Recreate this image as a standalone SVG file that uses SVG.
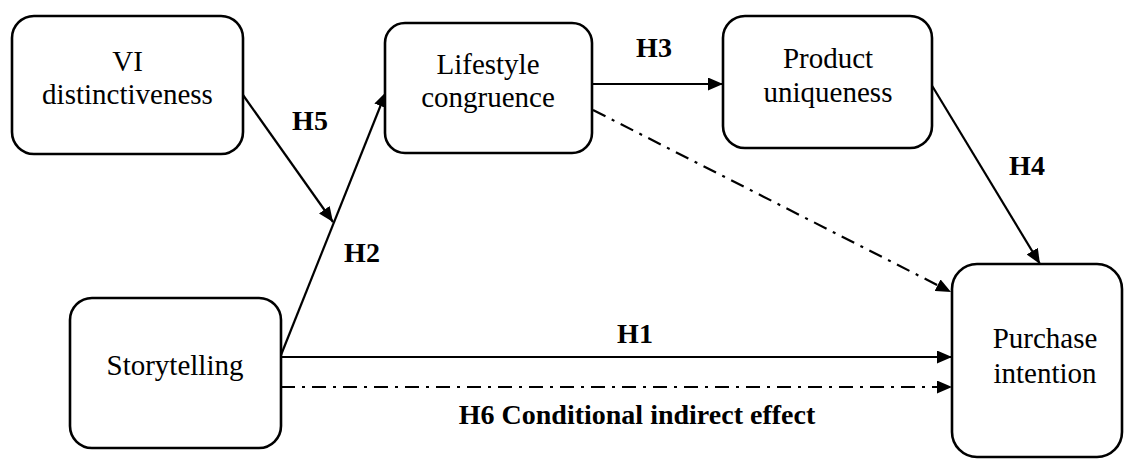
<svg xmlns="http://www.w3.org/2000/svg" width="1125" height="459" viewBox="0 0 1125 459">
<style>
.box{fill:#fff;stroke:#000;stroke-width:2.6}
.nt{font-family:"Liberation Serif","Times New Roman",serif;font-size:29px;fill:#000;text-anchor:middle}
.lb{font-family:"Liberation Serif","Times New Roman",serif;font-size:28px;font-weight:bold;fill:#000;text-anchor:middle}
.ln{fill:none;stroke:#000;stroke-width:2.2}
.dd{stroke-dasharray:14 7 3 7}
</style>
<defs>
<marker id="ah" markerUnits="userSpaceOnUse" markerWidth="16" markerHeight="13" refX="15" refY="6.5" orient="auto">
<path d="M0,0 L15,6.5 L0,13 z" fill="#000"/>
</marker>
</defs>
<rect width="1125" height="459" fill="#fff"/>
<g id="connectors">
<line class="ln" x1="243" y1="95" x2="333" y2="222" marker-end="url(#ah)"/>
<line class="ln" x1="281" y1="355" x2="386" y2="92" marker-end="url(#ah)"/>
<line class="ln" x1="592" y1="84" x2="723" y2="84" marker-end="url(#ah)"/>
<line class="ln" x1="931" y1="84" x2="1040" y2="264" marker-end="url(#ah)"/>
<line class="ln dd" x1="593" y1="110" x2="951" y2="292" marker-end="url(#ah)"/>
<line class="ln" x1="281" y1="357" x2="952" y2="357" marker-end="url(#ah)"/>
<line class="ln dd" x1="281" y1="387" x2="952" y2="387" marker-end="url(#ah)"/>
<text class="lb" x="310" y="130">H5</text>
<text class="lb" x="362" y="262">H2</text>
<text class="lb" x="654" y="57">H3</text>
<text class="lb" x="1027" y="175">H4</text>
<text class="lb" x="635" y="343">H1</text>
<text class="lb" x="637" y="424">H6 Conditional indirect effect</text>
</g>
<g id="vi">
<rect class="box" x="12" y="16" width="231" height="138" rx="22"/>
<text class="nt" x="127.5" y="71">VI</text>
<text class="nt" x="127.5" y="104">distinctiveness</text>
</g>
<g id="lifestyle">
<rect class="box" x="385" y="23" width="207" height="130" rx="20"/>
<text class="nt" x="488" y="74">Lifestyle</text>
<text class="nt" x="488" y="107">congruence</text>
</g>
<g id="product">
<rect class="box" x="723" y="16" width="209" height="132" rx="22"/>
<text class="nt" x="828" y="68">Product</text>
<text class="nt" x="828" y="102">uniqueness</text>
</g>
<g id="storytelling">
<rect class="box" x="70" y="298" width="211" height="150" rx="22"/>
<text class="nt" x="175" y="375">Storytelling</text>
</g>
<g id="purchase">
<rect class="box" x="952" y="264" width="170" height="193" rx="25"/>
<text class="nt" x="1045" y="348">Purchase</text>
<text class="nt" x="1045" y="383">intention</text>
</g>
</svg>
